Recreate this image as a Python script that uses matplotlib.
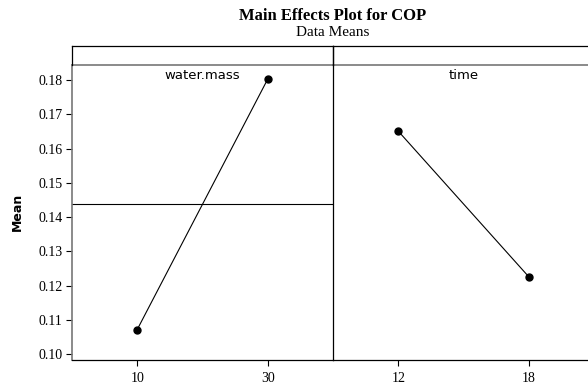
import matplotlib
matplotlib.use("Agg")
import matplotlib.pyplot as plt

factors = ["water.mass", "time"]
levels = [["10", "30"], ["12", "18"]]
means = [[0.1072, 0.1803], [0.1651, 0.1226]]
grand_mean = 0.1438
yticks = [0.10, 0.11, 0.12, 0.13, 0.14, 0.15, 0.16, 0.17, 0.18]

W, H = 588, 390
fig = plt.figure(figsize=(W / 100, H / 100), dpi=100)

def fx(px):
    return px / W

def fy(py):
    return 1 - py / H

left, mid, right = 72, 333, 594
top, strip_top, bottom = 65, 46, 360
serif = "Liberation Serif"

axes = []
for i, (x0, x1) in enumerate([(left, mid), (mid, right)]):
    ax = fig.add_axes([fx(x0), fy(bottom), fx(x1 - x0), fy(top) - fy(bottom)])
    ax.patch.set_alpha(0)
    pos = [1, 2]
    ax.plot(pos, means[i], color="black", lw=0.8, marker="o", ms=5,
            markerfacecolor="black", markeredgecolor="black")
    ax.set_xlim(0.5, 2.5)
    ax.set_ylim(0.0983, 0.1844)
    ax.set_xticks(pos)
    ax.set_xticklabels(levels[i], fontfamily=serif, fontsize=10)
    ax.tick_params(axis="x", length=4, width=0.8, pad=5)
    if i == 0:
        ax.set_yticks(yticks)
        ax.set_yticklabels(["%.2f" % v for v in yticks], fontfamily=serif, fontsize=10)
        ax.tick_params(axis="y", length=4, width=0.8, pad=3)
        ax.axhline(grand_mean, color="black", lw=0.8)
        ax.spines["left"].set_color("#777777")
        ax.spines["left"].set_linewidth(1.2)
    else:
        ax.set_yticks([])
        ax.spines["left"].set_visible(False)
    ax.spines["top"].set_color("#777777")
    ax.spines["top"].set_linewidth(1.2)
    ax.spines["right"].set_color("black")
    ax.spines["right"].set_linewidth(0.9)
    ax.spines["bottom"].set_linewidth(0.9)
    ax.text(0.5, 0.988, factors[i], transform=ax.transAxes, ha="center", va="top",
            fontsize=9.5)
    axes.append(ax)

# empty strip boxes above panels
for x0, x1 in [(left, mid), (mid, right)]:
    sax = fig.add_axes([fx(x0), fy(top), fx(x1 - x0), fy(strip_top) - fy(top)])
    sax.patch.set_alpha(0)
    sax.set_xticks([])
    sax.set_yticks([])
    for s in sax.spines.values():
        s.set_linewidth(0.9)
    sax.spines["bottom"].set_visible(False)

fig.text(fx(17), fy(212), "Mean", rotation=90, ha="center", va="center",
         fontweight="bold", fontsize=9)
fig.text(fx(333), fy(16), "Main Effects Plot for COP", ha="center", va="center",
         fontfamily=serif, fontweight="bold", fontsize=12)
fig.text(fx(333), fy(33), "Data Means", ha="center", va="center",
         fontfamily=serif, fontsize=11)

fig.savefig("out.png", dpi=100)
